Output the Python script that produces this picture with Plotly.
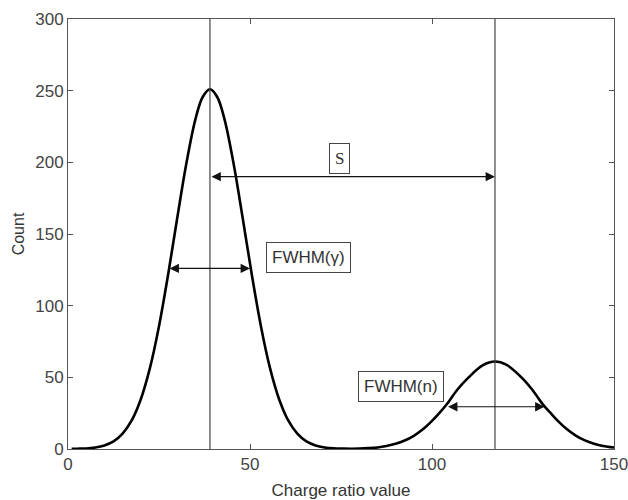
import plotly.graph_objects as go

# Curve points (charge ratio value, count)
x_vals = [1, 2.5, 5, 7.5, 10, 12.5, 15, 17.5, 20, 22.5, 25, 27.5, 30, 32.5, 35, 37, 39,
          41, 43, 45.5, 48, 50.5, 53, 55.5, 58, 60.5, 63, 65.5, 68, 70.5, 73, 75.5,
          78, 80, 82.5, 85, 87.5, 90, 92.5, 95, 97.5, 100, 102, 104, 107, 110, 114,
          117.3, 120.5, 124.5, 127.5, 130.5, 132.5, 134.5, 137, 139.5, 142, 144.5,
          147, 150]
y_vals = [0.1, 0.2, 0.4, 1.1, 2.5, 5.3, 10.7, 19.9, 34.7, 56.4, 85.7, 121.6, 161, 199,
          230, 245.6, 251, 245.6, 230, 199, 161, 121.6, 85.7, 56.4, 34.7, 19.9, 10.7,
          5.3, 2.5, 1.1, 0.5, 0.3, 0.2, 0.3, 0.6, 1.1, 2.1, 3.6, 5.9, 9.2, 13.7, 19.6,
          25.0, 31, 41.5, 49.8, 58.5, 61, 58.7, 50.1, 41.5, 31, 25.3, 19.8, 13.9, 9.4,
          6.0, 3.7, 2.1, 1.0]

# Peak positions and annotation values
peak_positions = [39, 117.3]
s_arrow = {"x0": 39, "x1": 117.3, "y": 190}
fwhm_g = {"x0": 27.5, "x1": 50, "y": 126}
fwhm_n = {"x0": 104, "x1": 130.9, "y": 29.5}
labels = [("S", 74.7, 202.5), ("FWHM(γ)", 66, 133.7), ("FWHM(n)", 91.4, 43.3)]

fig = go.Figure()
fig.add_trace(go.Scatter(x=x_vals, y=y_vals, mode="lines",
                         line=dict(color="black", width=2.6, shape="spline", smoothing=1.0),
                         showlegend=False, hoverinfo="skip"))

for px in peak_positions:
    fig.add_shape(type="line", x0=px, x1=px, y0=0, y1=300, xref="x", yref="y",
                  line=dict(color="#444444", width=1.2))

for arr in (s_arrow, fwhm_g, fwhm_n):
    fig.add_annotation(x=arr["x1"], y=arr["y"], ax=arr["x0"], ay=arr["y"],
                       xref="x", yref="y", axref="x", ayref="y", text="",
                       showarrow=True, arrowside="end+start", arrowhead=2,
                       startarrowhead=2, arrowsize=1.7, startarrowsize=1.7,
                       arrowwidth=1.1, arrowcolor="#111111")

for txt, lx, ly in labels:
    if txt == "S":
        fam, size, pad = "Liberation Serif, serif", 17, 5
    else:
        fam, size, pad = "Liberation Sans, Arial, sans-serif", 17, 5
    fig.add_annotation(x=lx, y=ly, xref="x", yref="y", text=txt, showarrow=False,
                       font=dict(family=fam, size=size, color="#333333"),
                       bordercolor="#444444", borderwidth=1, borderpad=pad, bgcolor="white")

axis_common = dict(showline=True, linecolor="#555555", linewidth=1, mirror="ticks",
                   ticks="inside", ticklen=5, tickcolor="#555555", showgrid=False,
                   zeroline=False, automargin=False, ticklabeloverflow="allow",
                   tickfont=dict(size=17, color="#444444"))

fig.update_xaxes(range=[0, 150], tickvals=[0, 50, 100, 150],
                 title=dict(text="Charge ratio value", font=dict(size=17, color="#333333"),
                            standoff=10), **axis_common)
fig.update_yaxes(range=[0, 300], tickvals=[0, 50, 100, 150, 200, 250, 300],
                 title=dict(text="Count", font=dict(size=16, color="#333333"), standoff=6),
                 **axis_common)

fig.update_layout(width=628, height=500, margin=dict(l=68, r=14, t=19, b=51),
                  plot_bgcolor="white", paper_bgcolor="white",
                  font=dict(family="Liberation Sans, Arial, sans-serif"))

fig.write_html("out.html")
